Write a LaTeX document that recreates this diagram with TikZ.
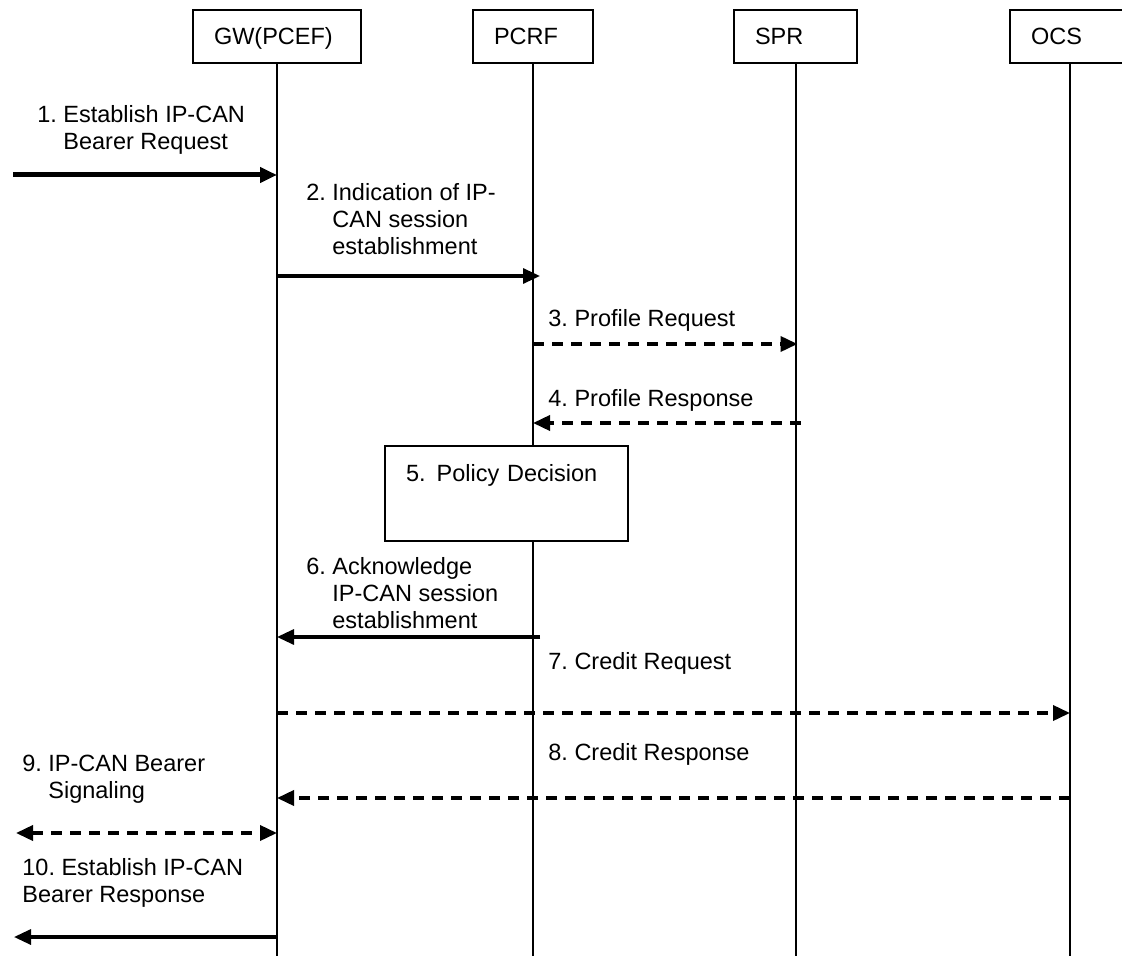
\documentclass[tikz,border=0pt]{standalone}
\usepackage{fontspec}
\setmainfont{Liberation Sans}
\usetikzlibrary{arrows.meta}
\newcommand\lbf{\fontsize{11.75}{13.5}\selectfont\frenchspacing}
\begin{document}
\begin{tikzpicture}[x=0.5pt,y=-0.5pt,
  ent/.style={draw,line width=1pt,fill=white,inner xsep=10.5pt,inner ysep=0pt,
    text height=8.4pt,text depth=0pt,minimum height=26.5pt,align=left,font=\lbf},
  life/.style={line width=1pt},
  lbl/.style={inner sep=0pt,anchor=base west,align=left,font=\lbf},
  tipend/.style={-{Triangle[length=8.5pt,width=7.5pt]}},
  tipboth/.style={{Triangle[length=8.5pt,width=7.5pt]}-{Triangle[length=8.5pt,width=7.5pt]}},
  solidmsg/.style={tipend,line width=1.6pt},
  thickmsg/.style={tipend,line width=2.5pt},
  dashmsg/.style={tipend,line width=1.8pt,dash pattern=on 5.5pt off 4pt},
  dashboth/.style={tipboth,line width=1.8pt,dash pattern=on 5.5pt off 4pt},
  decbox/.style={draw,line width=1pt,fill=white,inner xsep=10.5pt,inner ysep=9.1pt,
    text height=8.4pt,text depth=20.9pt,text width=100.5pt,align=left,font=\lbf,anchor=north west},
]
\useasboundingbox (0,0) rectangle (1122,956);

% entities
\node[ent,text width=63pt]   (gw)   at (277,36.5)  {GW(PCEF)};
\node[ent,text width=39pt]   (pcrf) at (533,36.5)  {PCRF};
\node[ent,text width=40.5pt] (spr)  at (795.5,36.5){SPR};
\node[ent,text width=39pt]   (ocs)  at (1070,36.5) {OCS};

% lifelines
\coordinate (gwB)   at (gw.south   |- 0,956);
\coordinate (pcrfB) at (pcrf.south |- 0,956);
\coordinate (sprB)  at (spr.south  |- 0,956);
\coordinate (ocsB)  at (ocs.south  |- 0,956);
\draw[life] (gw.south) -- (gwB);
\draw[life] (pcrf.south) -- (pcrfB);
\draw[life] (spr.south) -- (sprB);
\draw[life] (ocs.south) -- (ocsB);

% 1 (multi-line labels: anchor at the baseline of the last line)
\coordinate (src1) at (13,175);
\node[lbl] (l1) at (63,150) {\llap{1. }Establish IP-CAN\\Bearer Request};
\draw[thickmsg] (src1) -- (gw.south |- 0,175);

% 2
\node[lbl] (l2) at (332,255) {\llap{2. }Indication of IP-\\CAN session\\establishment};
\draw[solidmsg,shorten >=-3.5pt] (gw.south |- 0,276) -- (pcrf.south |- 0,276);

% 3
\node[lbl] (l3) at (548,327) {3. Profile Request};
\draw[dashmsg,shorten >=-1pt] (pcrf.south |- 0,344) -- (spr.south |- 0,344);

% 4
\node[lbl] (l4) at (548,407) {4. Profile Response};
\draw[dashmsg,shorten <=-2.5pt] (spr.south |- 0,423) -- (pcrf.south |- 0,423);

% 5
\node[decbox] (pd) at (384,445) {5.\hspace{5.5pt}Policy Decision};

% 6
\node[lbl] (l6) at (332,628) {\llap{6. }Acknowledge\\IP-CAN session\\establishment};
\draw[solidmsg,shorten <=-3.5pt] (pcrf.south |- 0,637) -- (gw.south |- 0,637);

% 7
\node[lbl] (l7) at (548,669) {7. Credit Request};
\draw[dashmsg] (gw.south |- 0,713) -- (ocs.south |- 0,713);

% 8
\node[lbl] (l8) at (548,760) {8. Credit Response};
\draw[dashmsg] (ocs.south |- 0,798) -- (gw.south |- 0,798);

% 9
\coordinate (ext9) at (16,833);
\node[lbl] (l9) at (48,798) {\llap{9. }IP-CAN Bearer\\Signaling};
\draw[dashboth] (ext9) -- (gw.south |- 0,833);

% 10
\coordinate (ext10) at (14,937);
\node[lbl] (l10) at (22,902) {10. Establish IP-CAN\\Bearer Response};
\draw[solidmsg] (gw.south |- 0,937) -- (ext10);
\end{tikzpicture}
\end{document}
